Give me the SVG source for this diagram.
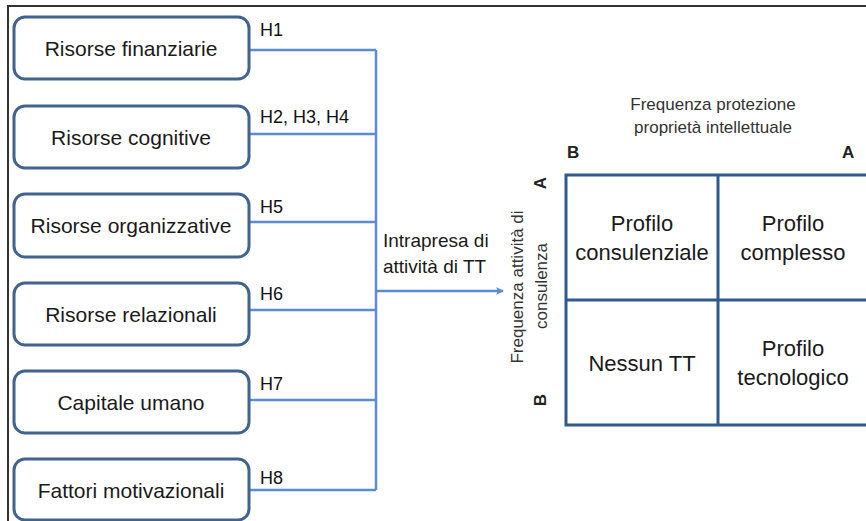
<svg xmlns="http://www.w3.org/2000/svg" width="866" height="521" viewBox="0 0 866 521">
<style>
.box{fill:#fff;stroke:#41648f;stroke-width:3}
.bt{font-family:"Liberation Sans",Arial,sans-serif;font-size:21px;fill:#1a1a1a;text-anchor:middle}
.h{font-family:"Liberation Sans",Arial,sans-serif;font-size:18px;fill:#111}
.con{fill:none;stroke:#5b8bd0;stroke-width:2.5}
.grid{fill:none;stroke:#2f5a8e;stroke-width:3}
.ct{font-family:"Liberation Sans",Arial,sans-serif;font-size:22px;fill:#1a1a1a;text-anchor:middle}
.ax{font-family:"Liberation Sans",Arial,sans-serif;font-size:17px;fill:#333;text-anchor:middle}
.ab{font-family:"Liberation Sans",Arial,sans-serif;font-size:17px;font-weight:bold;fill:#222}
.lbl{font-family:"Liberation Sans",Arial,sans-serif;font-size:19px;fill:#1a1a1a}
</style>
<defs>
<marker id="arr" markerWidth="10" markerHeight="10" refX="8" refY="5" orient="auto" markerUnits="userSpaceOnUse">
<path d="M1,1 L9,5 L1,9 L3,5 Z" fill="#5b8bd0"/>
</marker>
</defs>
<g id="frame"><path d="M8,521 V6 H866" fill="none" stroke="#333" stroke-width="2"/></g>
<g id="connectors">
<path class="con" d="M249,50 H376 M249,134 H376 M249,222 H376 M249,310 H376 M249,400 H376 M249,490 H376 M376,50 V490"/>
<path class="con" d="M376,291 H503" marker-end="url(#arr)"/>
<text class="h" x="260" y="36">H1</text>
<text class="h" x="260" y="123">H2, H3, H4</text>
<text class="h" x="260" y="213">H5</text>
<text class="h" x="260" y="300">H6</text>
<text class="h" x="260" y="390">H7</text>
<text class="h" x="260" y="484">H8</text>
</g>
<g id="n1"><rect class="box" x="14" y="17" width="235" height="62" rx="11"/><text class="bt" x="131" y="56">Risorse finanziarie</text></g>
<g id="n2"><rect class="box" x="14" y="106" width="235" height="62" rx="11"/><text class="bt" x="131" y="145">Risorse cognitive</text></g>
<g id="n3"><rect class="box" x="14" y="194" width="235" height="63" rx="11"/><text class="bt" x="131" y="233">Risorse organizzative</text></g>
<g id="n4"><rect class="box" x="14" y="283" width="235" height="62" rx="11"/><text class="bt" x="131" y="322">Risorse relazionali</text></g>
<g id="n5"><rect class="box" x="14" y="371" width="235" height="62" rx="11"/><text class="bt" x="131" y="410">Capitale umano</text></g>
<g id="n6"><rect class="box" x="14" y="459" width="235" height="61" rx="11"/><text class="bt" x="131" y="498">Fattori motivazionali</text></g>
<g id="target"><text class="lbl" x="383" y="247">Intrapresa di</text><text class="lbl" x="383" y="273">attività di TT</text></g>
<g id="matrix">
<text class="ax" x="713" y="110">Frequenza protezione</text>
<text class="ax" x="713" y="133">proprietà intellettuale</text>
<text class="ab" x="567" y="158">B</text>
<text class="ab" x="842" y="158">A</text>
<text class="ax" transform="translate(523,287) rotate(-90)">Frequenza attività di</text>
<text class="ax" transform="translate(547,286) rotate(-90)">consulenza</text>
<text class="ab" text-anchor="middle" transform="translate(546,183) rotate(-90)">A</text>
<text class="ab" text-anchor="middle" transform="translate(546,400) rotate(-90)">B</text>
<path class="grid" d="M866,175 H566 V425 H866 M566,300 H866 M718,175 V425"/>
<text class="ct" x="642" y="231">Profilo</text>
<text class="ct" x="642" y="260">consulenziale</text>
<text class="ct" x="793" y="231">Profilo</text>
<text class="ct" x="793" y="260">complesso</text>
<text class="ct" x="642" y="371">Nessun TT</text>
<text class="ct" x="793" y="356">Profilo</text>
<text class="ct" x="793" y="385">tecnologico</text>
</g>
</svg>
